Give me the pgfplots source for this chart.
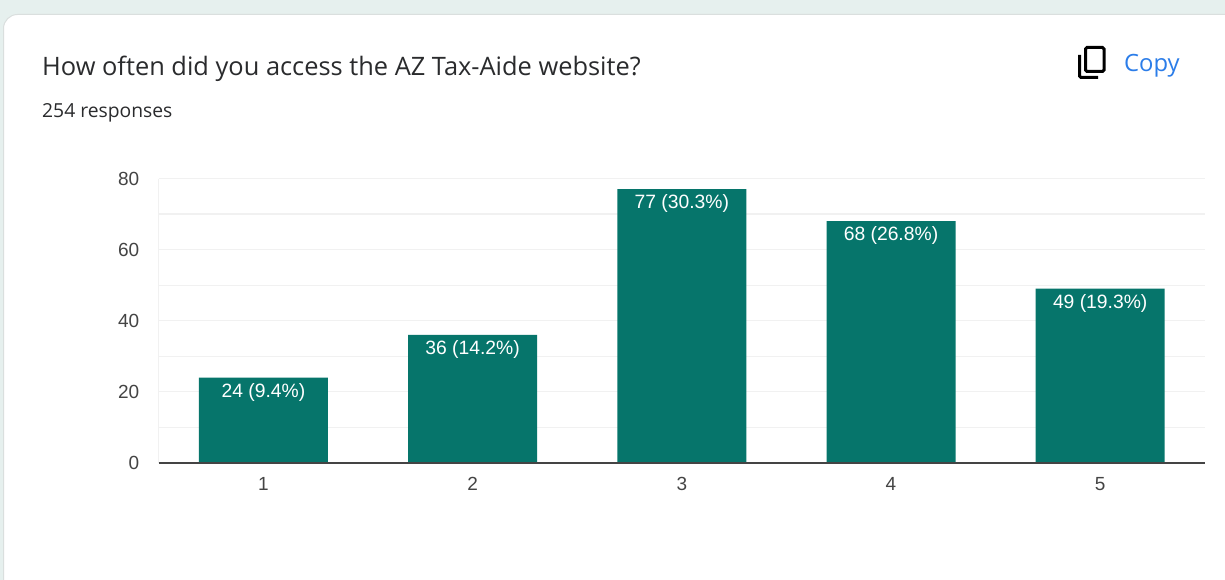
\documentclass[border=0pt]{standalone}
\usepackage{pgfplots}
\pgfplotsset{compat=1.18}
\usepackage{fontspec}
\setmainfont{Liberation Sans}
\newfontfamily\headfont{Open Sans}
\definecolor{pagebg}{HTML}{E6F0EE}
\definecolor{cardedge}{HTML}{DADFDE}
\definecolor{barteal}{HTML}{06756B}
\definecolor{gridc}{HTML}{F1F1F1}
\definecolor{copyblue}{HTML}{2B7DE9}
\definecolor{inkc}{HTML}{2A2B2D}
\definecolor{tickc}{HTML}{444444}
\pgfplotstableread{
x y label
1 24 {24 (9.4\%)}
2 36 {36 (14.2\%)}
3 77 {77 (30.3\%)}
4 68 {68 (26.8\%)}
5 49 {49 (19.3\%)}
}\responses
\begin{document}
\begin{tikzpicture}[x=1pt,y=-1pt]
  % page backdrop and the rounded card
  \fill[pagebg] (0,0) rectangle (1225,580);
  \clip (0,0) rectangle (1225,580);
  \draw[cardedge,fill=white,line width=1pt,rounded corners=14pt] (3.5,14.5) rectangle (1260,620);
  % heading
  \node[anchor=base west,inner sep=0pt,text=inkc,font=\headfont\fontsize{25.4}{30}\selectfont] at (42,76) {How often did you access the AZ Tax-Aide website?};
  \node[anchor=base west,inner sep=0pt,text=inkc,font=\headfont\fontsize{19.3}{22}\selectfont] at (42,118) {254 responses};
  % copy button
  \draw[black,line width=3pt,rounded corners=1.5pt] (1085.5,47.5) rectangle (1104,71.5);
  \draw[black,line width=3pt,rounded corners=1.5pt] (1079.5,55) -- (1079.5,77.5) -- (1098,77.5);
  \node[anchor=base west,inner sep=0pt,text=copyblue,font=\headfont\fontsize{23.8}{26}\selectfont] at (1124,72) {Copy};
  % response counts
  \begin{axis}[
    at={(158.8pt,-463pt)},anchor=south west,
    scale only axis,width=1046pt,height=284.5pt,
    xmin=0.5,xmax=5.5,ymin=0,ymax=80,
    axis line style={draw=none},
    axis x line*=bottom,axis y line*=left,
    xtick={1,2,3,4,5},
    ytick={0,20,40,60,80},
    minor ytick={10,30,50,70},
    major tick length=0pt,minor tick length=0pt,
    ymajorgrids,yminorgrids,
    major grid style={gridc,line width=1.2pt},
    minor grid style={gridc,line width=1.2pt},
    tick label style={font=\fontsize{19}{22}\selectfont,text=tickc},
    /pgf/number format/assume math mode=true,
    xticklabel style={yshift=-11pt},
    yticklabel style={xshift=-16pt},
    clip=false,
    enlargelimits=false,
  ]
    \addplot[ybar,bar width=129pt,fill=barteal,draw=none,
      nodes near coords,
      point meta=explicit symbolic,
      nodes near coords style={anchor=north,yshift=-2.5pt,inner sep=3pt,text=white,
        font=\fontsize{19.3}{22}\selectfont},
    ] table[x=x,y=y,meta=label]{\responses};
    % outer frame line and baseline
    \draw[gridc,line width=1.2pt] (axis cs:0.5,0) -- (axis cs:0.5,80);
    \draw[tickc,line width=1.6pt] (axis cs:0.5,0) -- (axis cs:5.5,0);
  \end{axis}
\end{tikzpicture}
\end{document}
